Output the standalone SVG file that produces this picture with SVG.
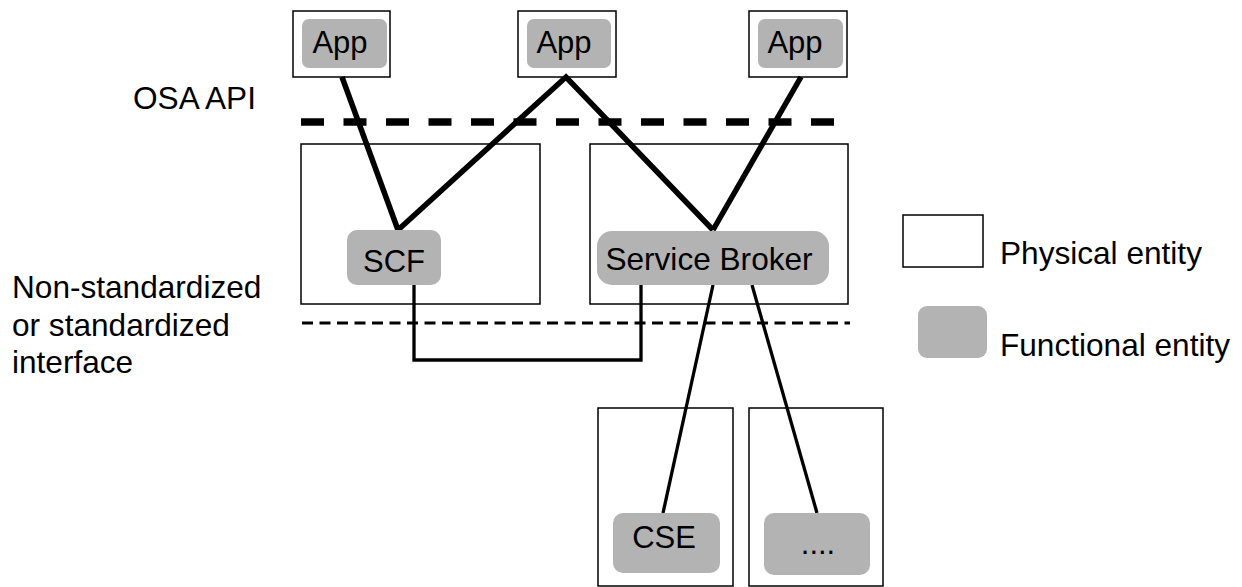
<svg xmlns="http://www.w3.org/2000/svg" width="1242" height="587" viewBox="0 0 1242 587">
<style>
.phys{fill:#fff;stroke:#000;stroke-width:1.5}
.func{fill:#b3b3b3;stroke:none}
.t{font-family:"Liberation Sans",Arial,sans-serif;font-size:31.6px;fill:#000}
.s{font-size:31px}
.c{text-anchor:middle}
.thick{stroke:#000;stroke-width:5.5;fill:none;stroke-linecap:butt}
.thin{stroke:#000;stroke-width:3.3;fill:none}
</style>
<rect width="1242" height="587" fill="#fff"/>
<g id="labels">
<text class="t" x="133" y="109">OSA API</text>
<text class="t" x="12" y="298">Non-standardized</text>
<text class="t" x="12" y="336">or standardized</text>
<text class="t" x="12" y="373">interface</text>
</g>
<g id="interfaces">
<line x1="301" y1="122" x2="836" y2="122" stroke="#000" stroke-width="7.5" stroke-dasharray="23 19.5"/>
<line x1="302" y1="323" x2="850" y2="323" stroke="#000" stroke-width="2.8" stroke-dasharray="11 6.5"/>
</g>
<g id="app1">
<rect class="phys" x="293" y="11" width="97" height="66"/>
<rect class="func" x="302" y="19" width="85" height="49" rx="7"/>
<text class="t s c" x="340" y="53">App</text>
</g>
<g id="app2">
<rect class="phys" x="518" y="11" width="98" height="66"/>
<rect class="func" x="527" y="19" width="84" height="49" rx="7"/>
<text class="t s c" x="564" y="53">App</text>
</g>
<g id="app3">
<rect class="phys" x="749" y="11" width="98" height="66"/>
<rect class="func" x="758" y="19" width="85" height="49" rx="7"/>
<text class="t s c" x="795" y="53">App</text>
</g>
<g id="scf-host">
<rect class="phys" x="301" y="144" width="239" height="160"/>
</g>
<g id="sb-host">
<rect class="phys" x="590" y="144" width="258" height="160"/>
</g>
<g id="cse-host">
<rect class="phys" x="598" y="408" width="135" height="178"/>
</g>
<g id="other-host">
<rect class="phys" x="749" y="408" width="134" height="178"/>
</g>
<g id="connectors">
<line class="thick" x1="342" y1="77" x2="398" y2="230"/>
<polyline class="thick" points="398,230 566,77 713,230" stroke-linejoin="miter"/>
<line class="thick" x1="801" y1="77" x2="713" y2="230"/>
<polyline class="thin" points="414,285 414,360 641,360 641,285"/>
<line class="thin" x1="713" y1="285" x2="663" y2="513"/>
<line class="thin" x1="752" y1="285" x2="817" y2="513"/>
</g>
<g id="scf">
<rect class="func" x="347" y="230" width="94" height="55" rx="10"/>
<text class="t s c" x="394" y="272">SCF</text>
</g>
<g id="service-broker">
<rect class="func" x="597" y="231" width="232" height="54" rx="15"/>
<text class="t c" x="709" y="270">Service Broker</text>
</g>
<g id="cse">
<rect class="func" x="613" y="513" width="107" height="60" rx="10"/>
<text class="t s c" x="664" y="548">CSE</text>
</g>
<g id="other">
<rect class="func" x="764" y="513" width="106" height="62" rx="10"/>
<text class="t s c" x="818" y="554">....</text>
</g>
<g id="legend-physical">
<rect class="phys" x="903" y="215" width="80" height="52"/>
<text class="t" x="1000" y="264">Physical entity</text>
</g>
<g id="legend-functional">
<rect class="func" x="918" y="306" width="69" height="52" rx="9"/>
<text class="t" x="1000" y="356">Functional entity</text>
</g>
</svg>
